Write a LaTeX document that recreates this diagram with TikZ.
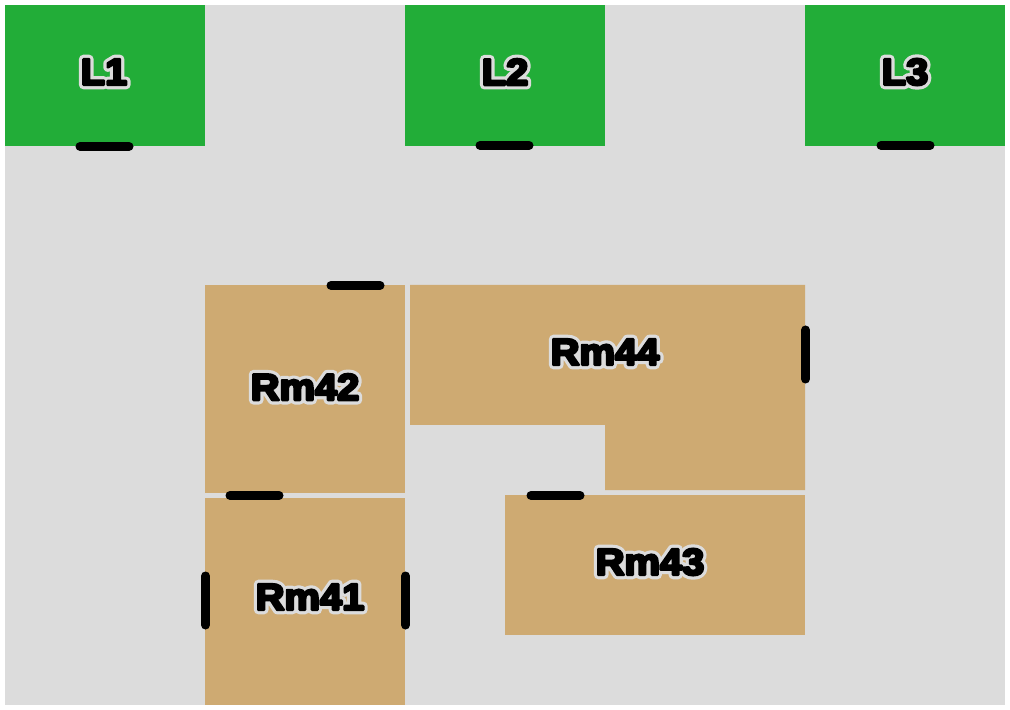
\documentclass[tikz,border=0pt]{standalone}
\usepackage{fontspec}
\newfontfamily\inkfont[FakeBold=7,FakeStretch=1.07]{Liberation Sans Bold}
\newfontfamily\halofont[FakeBold=24,FakeStretch=1.07]{Liberation Sans Bold}
\definecolor{floorgray}{HTML}{DCDCDC}
\definecolor{lotgreen}{HTML}{22AD38}
\definecolor{roomtan}{HTML}{CEAA72}
\newcommand{\haloname}[1]{\pgfsetroundjoin{\halofont\color{floorgray}\rlap{#1}}{\inkfont #1}}
\tikzset{
    lot/.style={fill=lotgreen},
    room/.style={fill=roomtan},
    doorway/.style={line width=0.09cm,line cap=round},
    tag/.style={inner sep=0pt,font=\fontsize{10.6pt}{12pt}\selectfont}
}

\begin{document}
\begin{tikzpicture}[x=0.01cm,y=-0.01cm]
        \useasboundingbox (0,0) rectangle (1010,710);
        \fill[floorgray] (5,5) rectangle (1005,705);

        \foreach \x in {5,405,805}
            \fill[lot] (\x,5) rectangle (\x+200,146);

        \fill[room] (205,285) rectangle (405,493);
        \fill[room] (205,498) rectangle (405,705);
        \fill[room] (505,495) rectangle (805,635);
        \fill[room] (410,285) -| (805,490) -| (605,425) -| cycle;

        % doors
        \draw[doorway] (80,146.4) -- (129,146.4);
        \draw[doorway] (480,145.4) -- (529,145.4);
        \draw[doorway] (881,145.4) -- (930,145.4);
        \draw[doorway] (331,285.4) -- (380,285.4);
        \draw[doorway] (230,495.4) -- (279,495.4);
        \draw[doorway] (531,495.4) -- (580,495.4);
        \draw[doorway] (205.5,576) -- (205.5,625);
        \draw[doorway] (405.5,576) -- (405.5,625);
        \draw[doorway] (805.5,330) -- (805.5,379);

        \node[tag] (L1) at (104,72) {\haloname{L1}};
        \node[tag] (L2) at (505,72) {\haloname{L2}};
        \node[tag] (L3) at (905,72) {\haloname{L3}};
        \node[tag] (Rm42) at (305,387) {\haloname{Rm42}};
        \node[tag] (Rm41) at (310,597) {\haloname{Rm41}};
        \node[tag] (Rm44) at (605,352) {\haloname{Rm44}};
        \node[tag] (Rm43) at (650,562) {\haloname{Rm43}};
    \end{tikzpicture}
\end{document}
